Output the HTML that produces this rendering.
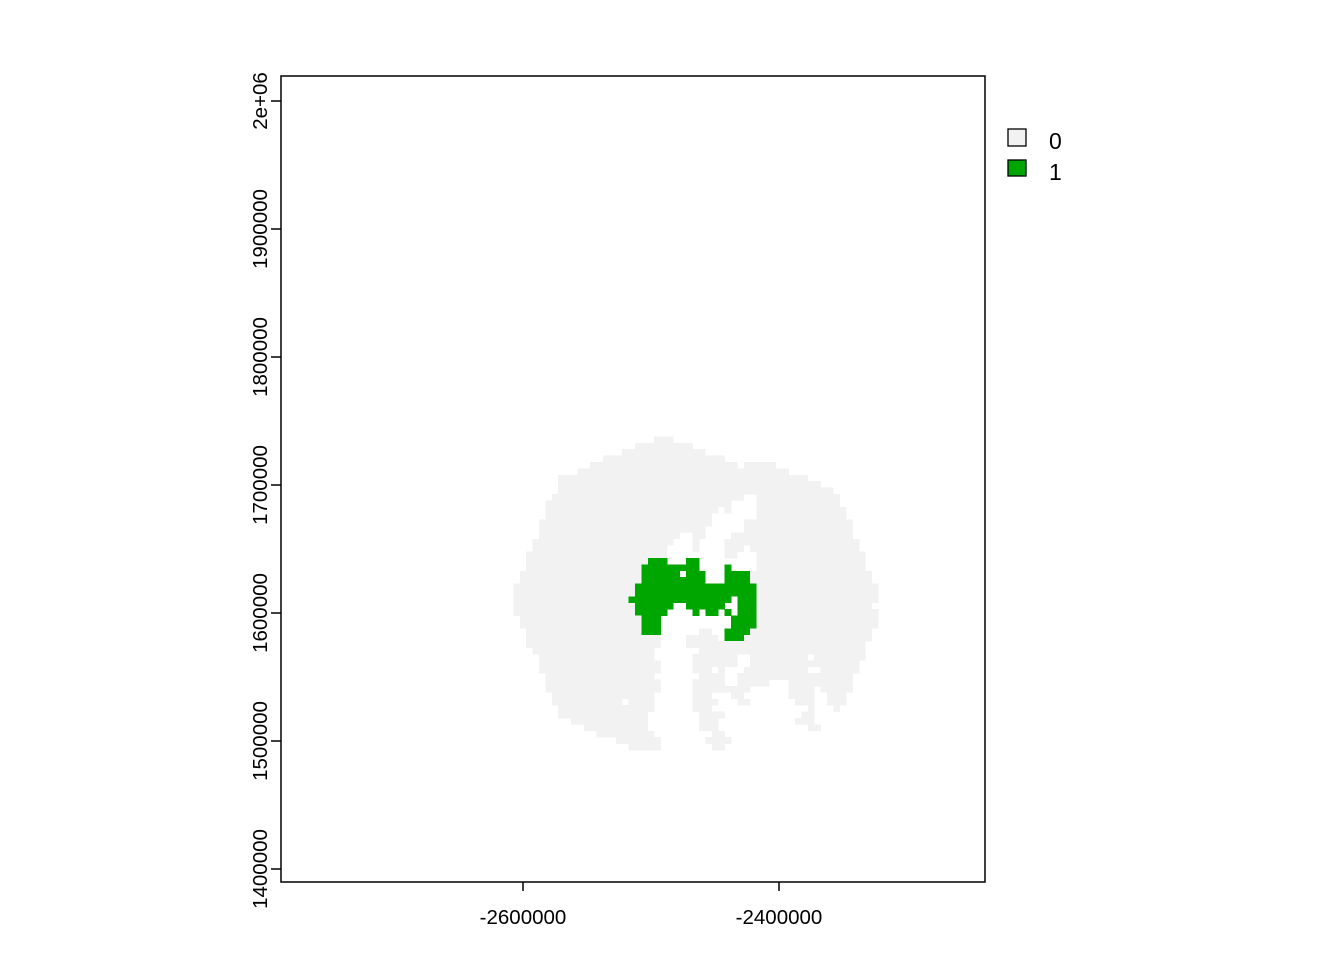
<!DOCTYPE html>
<html><head><meta charset="utf-8"><style>
html,body{margin:0;padding:0;background:#fff;}
svg{display:block;font-family:"Liberation Sans",Arial,sans-serif;}
</style></head><body>
<svg id="chart" width="1344" height="960" viewBox="0 0 1344 960">
<g id="cells" shape-rendering="crispEdges"></g>
<rect x="281" y="76" width="704" height="806" fill="none" stroke="#000" stroke-width="1.5"/>
<g id="axes"></g>
<g>
<rect x="1008" y="129" width="18" height="17" fill="#f2f2f2" stroke="#000" stroke-width="1.3"/>
<text x="1049" y="149" font-size="23">0</text>
<rect x="1008" y="160" width="18" height="16" fill="#00a600" stroke="#000" stroke-width="1.3"/>
<text x="1049" y="180" font-size="23">1</text>
</g>
</svg>
<script>
// axis ticks
const xTicks = [-2600000, -2400000];
const xTickLabels = ["-2600000", "-2400000"];
const yTicks = [1400000, 1500000, 1600000, 1700000, 1800000, 1900000, 2000000];
const yTickLabels = ["1400000", "1500000", "1600000", "1700000", "1800000", "1900000", "2e+06"];
// raster grid: origin (top-left) in map units and cell size
const gridOriginX = -2607500;
const gridOriginY = 1738000;
const cellSize = 5000;
// per row: gray ranges [c0,c1], white holes, green ranges
const grayRows = [
[[22,24]],[[19,27]],[[17,29]],[[14,32]],[[12,34],[36,40]],[[10,42]],[[7,45]],[[7,47]],[[7,49]],[[6,50]],
[[5,50]],[[5,51]],[[5,51]],[[4,52]],[[4,52]],[[4,52]],[[3,53]],[[3,53]],[[2,54]],[[2,54]],
[[2,54]],[[1,55]],[[1,55]],[[0,56]],[[0,56]],[[0,56]],[[0,55]],[[0,56]],[[1,56]],[[1,56]],
[[2,55]],[[2,55]],[[2,54]],[[3,54]],[[4,54]],[[4,53]],[[4,53]],[[5,52]],[[5,52]],[[5,52]],
[[6,51]],[[6,51]],[[7,50]],[[7,46]],[[9,46]],[[11,47]],[[13,32]],[[16,22],[30,33]],[[18,22],[31,32]]
];
const holeRows = [
[],[],[],[],[],[],[],[],[],[[36,37]],
[[34,37]],[[32,32],[34,37]],[[31,37]],[[31,35]],[[30,35]],[[26,27],[30,33]],[[25,27],[29,32]],[[24,27],[29,32],[36,36]],[[24,32],[35,37]],[[24,26],[29,37]],
[[29,32],[34,37]],[[26,26],[30,32]],[[30,32]],[],[],[[34,34]],[[25,26],[33,34]],[[24,27],[29,29],[32,32],[34,34]],[[23,33]],[[23,33]],
[[23,28],[31,32]],[[23,26],[32,32]],[[23,26]],[[22,28]],[[22,27],[35,36],[46,46]],[[23,27],[35,36]],[[23,27],[31,31],[33,35],[46,47]],[[22,28],[33,34]],[[23,27],[33,34],[40,42]],[[23,27],[37,42],[47,47]],
[[22,27],[31,33],[36,42],[47,48]],[[17,17],[22,27],[32,34],[37,43],[47,48]],[[22,27],[31,45],[47,49]],[[21,28],[33,44]],[[21,28],[32,43]],[[21,28],[32,45]],[[22,30]],[[23,29]],[]
];
const greenRows = [
[],[],[],[],[],[],[],[],[],[],
[],[],[],[],[],[],[],[],[],[[21,23],[27,28]],
[[20,28],[33,33]],[[20,25],[27,29],[33,36]],[[20,29],[33,36]],[[19,37]],[[19,37]],[[18,33],[35,37]],[[19,24],[27,32],[35,37]],[[19,23],[28,28],[30,31],[33,33],[35,37]],[[20,22],[34,37]],[[20,22],[34,37]],
[[20,22],[33,36]],[[33,35]],[],[],[],[],[],[],[],[],
[],[],[],[],[],[],[],[],[]
];
const NS="http://www.w3.org/2000/svg";
const px0=281, px1=985, py0=76, py1=882;
function xScale(v){ return 523 + (v - (-2600000)) * 0.00128; }
function yScale(v){ return 101 + (2000000 - v) * 0.00128; }
const cells=document.getElementById('cells');
function addCell(r,c,color,name){
  const x0=xScale(gridOriginX+c*cellSize), x1=xScale(gridOriginX+(c+1)*cellSize);
  const y0=yScale(gridOriginY-r*cellSize), y1=yScale(gridOriginY-(r+1)*cellSize);
  const el=document.createElementNS(NS,'rect');
  el.setAttribute('x',x0.toFixed(2));el.setAttribute('y',y0.toFixed(2));
  el.setAttribute('width',(x1-x0+0.3).toFixed(2));el.setAttribute('height',(y1-y0+0.3).toFixed(2));
  el.setAttribute('fill',color);
  
  
  cells.appendChild(el);
}
function inR(list,c){ return list.some(([a,b])=>c>=a&&c<=b); }
for(let r=0;r<grayRows.length;r++){
  for(let c=0;c<57;c++){
    if(inR(greenRows[r],c)) addCell(r,c,'#00a600','cell-value-1');
    else if(inR(grayRows[r],c)&&!inR(holeRows[r],c)) addCell(r,c,'#f2f2f2','cell-value-0');
  }
}
const axes=document.getElementById('axes');
xTicks.forEach((v,i)=>{
  const x=xScale(v);
  const l=document.createElementNS(NS,'line');
  l.setAttribute('x1',x);l.setAttribute('x2',x);l.setAttribute('y1',py1);l.setAttribute('y2',py1+9);
  l.setAttribute('stroke','#000');l.setAttribute('stroke-width','1.5');
  
  
  axes.appendChild(l);
  const t=document.createElementNS(NS,'text');
  t.setAttribute('x',x);t.setAttribute('y',924);t.setAttribute('font-size','20.5');t.setAttribute('text-anchor','middle');
  t.textContent=xTickLabels[i];
  
  
  axes.appendChild(t);
});
yTicks.forEach((v,i)=>{
  const y=yScale(v);
  const l=document.createElementNS(NS,'line');
  l.setAttribute('x1',px0-10);l.setAttribute('x2',px0);l.setAttribute('y1',y);l.setAttribute('y2',y);
  l.setAttribute('stroke','#000');l.setAttribute('stroke-width','1.5');
  
  
  axes.appendChild(l);
  const t=document.createElementNS(NS,'text');
  t.setAttribute('x',0);t.setAttribute('y',0);t.setAttribute('font-size','20.5');t.setAttribute('text-anchor','middle');
  t.setAttribute('transform','translate(267,'+y+') rotate(-90)');
  t.textContent=yTickLabels[i];
  
  
  axes.appendChild(t);
});
</script>
</body></html>
